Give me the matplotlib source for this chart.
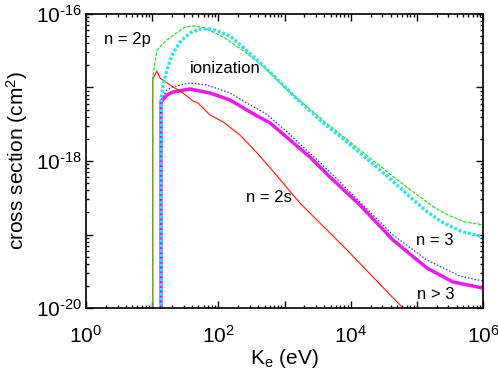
import numpy as np
import matplotlib
matplotlib.use("Agg")
import matplotlib.pyplot as plt
from matplotlib.ticker import LogLocator, FuncFormatter, NullFormatter

plt.rcParams["font.family"] = ["Liberation Sans", "DejaVu Sans"]
plt.rcParams["mathtext.fontset"] = "custom"
plt.rcParams["mathtext.rm"] = "Liberation Sans"
plt.rcParams["mathtext.it"] = "Liberation Sans:italic"
plt.rcParams["mathtext.bf"] = "Liberation Sans:bold"

# electron energy (eV) and cross section (cm^2)
green_E = [10.2, 10.2, 11.8, 16.7, 31.3, 44.4, 62.9, 126, 253, 507, 1017,
           2040, 4090, 9770, 23300, 55600, 111600, 188000, 317000, 534000, 1e6]
green_sigma = [1e-21, 1.39e-17, 3.24e-17, 4.43e-17, 6.65e-17, 6.87e-17,
               6.45e-17, 4.71e-17, 3.04e-17, 1.84e-17, 9.84e-18, 5.78e-18,
               3.40e-18, 1.82e-18, 9.69e-19, 5.18e-19, 3.24e-19, 2.30e-19,
               1.79e-19, 1.48e-19, 1.35e-19]

red_E = [10.2, 10.2, 11.8, 13.1, 18.6, 29.2, 41.4, 49.3, 74.8, 118, 212,
         384, 647, 1710, 8800, 50100, 66200]
red_sigma = [1e-21, 1.31e-17, 1.67e-17, 1.35e-17, 1.08e-17, 8.41e-18,
             6.55e-18, 6.15e-18, 4.23e-18, 3.40e-18, 2.26e-18, 1.29e-18,
             7.55e-19, 2.68e-19, 6.15e-20, 1.21e-20, 9.4e-21]

cyan_E = [13.6, 13.6, 14.6, 16.7, 19.9, 26.3, 37.3, 52.8, 80.2, 150, 358,
          718, 1440, 3440, 10800, 35400, 78700, 133000, 224000, 449000, 1e6]
cyan_sigma = [1e-21, 6.76e-18, 1.08e-17, 1.73e-17, 2.77e-17, 4.16e-17,
              5.51e-17, 6.25e-17, 6.25e-17, 5.02e-17, 2.52e-17, 1.39e-17,
              7.43e-18, 3.61e-18, 1.55e-18, 6.25e-19, 3.24e-19, 2.15e-19,
              1.53e-19, 1.12e-19, 9.25e-20]

blue_E = [13.5, 13.5, 16.7, 20.6, 37.3, 67.4, 150, 301, 507, 1017, 4870,
          13800, 43600, 142000, 449000, 1e6]
blue_sigma = [1e-21, 6.76e-18, 9.25e-18, 1.02e-17, 1.15e-17, 1.08e-17,
              8.41e-18, 5.78e-18, 4.50e-18, 2.64e-18, 7.08e-19, 2.77e-19,
              9.84e-20, 4.50e-20, 2.72e-20, 2.33e-20]

magenta_E = [13.6, 13.6, 16.7, 20.6, 37.3, 74.8, 150, 301, 604, 1210, 2430,
             4870, 13800, 43600, 142000, 352000, 1e6]
magenta_sigma = [1e-21, 6.35e-18, 7.91e-18, 8.69e-18, 9.55e-18, 8.41e-18,
                 6.76e-18, 4.65e-18, 3.29e-18, 1.93e-18, 1.13e-18, 6.05e-19,
                 2.52e-19, 8.41e-20, 3.50e-20, 2.26e-20, 1.87e-20]

# curve labels: (text, energy, sigma)
labels = [
    ("n = 2p", 4.17, 4.43e-17),
    ("ionization", 126, 1.79e-17),
    ("n = 2s", 583, 3.14e-19),
    ("n = 3", 1.88e5, 8.17e-20),
    ("n > 3", 1.95e5, 1.55e-20),
]

fig = plt.figure(figsize=(4.98, 3.72), dpi=100)
ax = fig.add_axes([0.1727, 0.172, 0.7972, 0.7904])

ax.plot(magenta_E, magenta_sigma, color="#f018f0", lw=2.5, solid_capstyle="butt")
ax.plot(red_E, red_sigma, color="#ff2010", lw=0.85)
ax.plot(green_E, green_sigma, color="#22dd22", lw=0.85, ls=(0, (3, 1.2)))
ax.plot(blue_E, blue_sigma, color="#2233ff", lw=0.9, ls=(0, (1.2, 1.5)))
ax.plot(cyan_E, cyan_sigma, color="#30e0f0", lw=2.4, ls=(0, (0.9, 0.55)))

ax.set_xscale("log")
ax.set_yscale("log")
ax.set_xlim(1, 1e6)
ax.set_ylim(1e-20, 1e-16)


def even_decades(v, pos):
    e = int(round(np.log10(v)))
    if e % 2:
        return ""
    if e < 0:
        return r"$\mathdefault{10^{\text{-}%d}}$" % (-e)
    return r"$\mathdefault{10^{%d}}$" % e


ax.xaxis.set_major_locator(LogLocator(base=10, numticks=20))
ax.yaxis.set_major_locator(LogLocator(base=10, numticks=20))
ax.xaxis.set_minor_locator(LogLocator(base=10, subs=np.arange(2, 10), numticks=20))
ax.yaxis.set_minor_locator(LogLocator(base=10, subs=np.arange(2, 10), numticks=20))
ax.xaxis.set_major_formatter(FuncFormatter(even_decades))
ax.yaxis.set_major_formatter(FuncFormatter(even_decades))
ax.xaxis.set_minor_formatter(NullFormatter())
ax.yaxis.set_minor_formatter(NullFormatter())

ax.tick_params(which="both", direction="in", top=True, right=True,
               labelsize=15, width=1.0)
ax.tick_params(which="major", length=5)
ax.tick_params(which="minor", length=2.5)
ax.tick_params(axis="x", which="major", pad=12)
ax.tick_params(axis="y", which="major", pad=3)
for s in ax.spines.values():
    s.set_linewidth(1.2)

ax.set_xlabel(r"K$_\mathrm{e}$ (eV)", fontsize=15, labelpad=0)
ax.set_ylabel(r"cross section (cm$^\mathrm{2}$)", fontsize=15, labelpad=4)

for text, x, y in labels:
    ax.text(x, y, text, fontsize=12, ha="center", va="center")

fig.savefig("out.png", dpi=100)
